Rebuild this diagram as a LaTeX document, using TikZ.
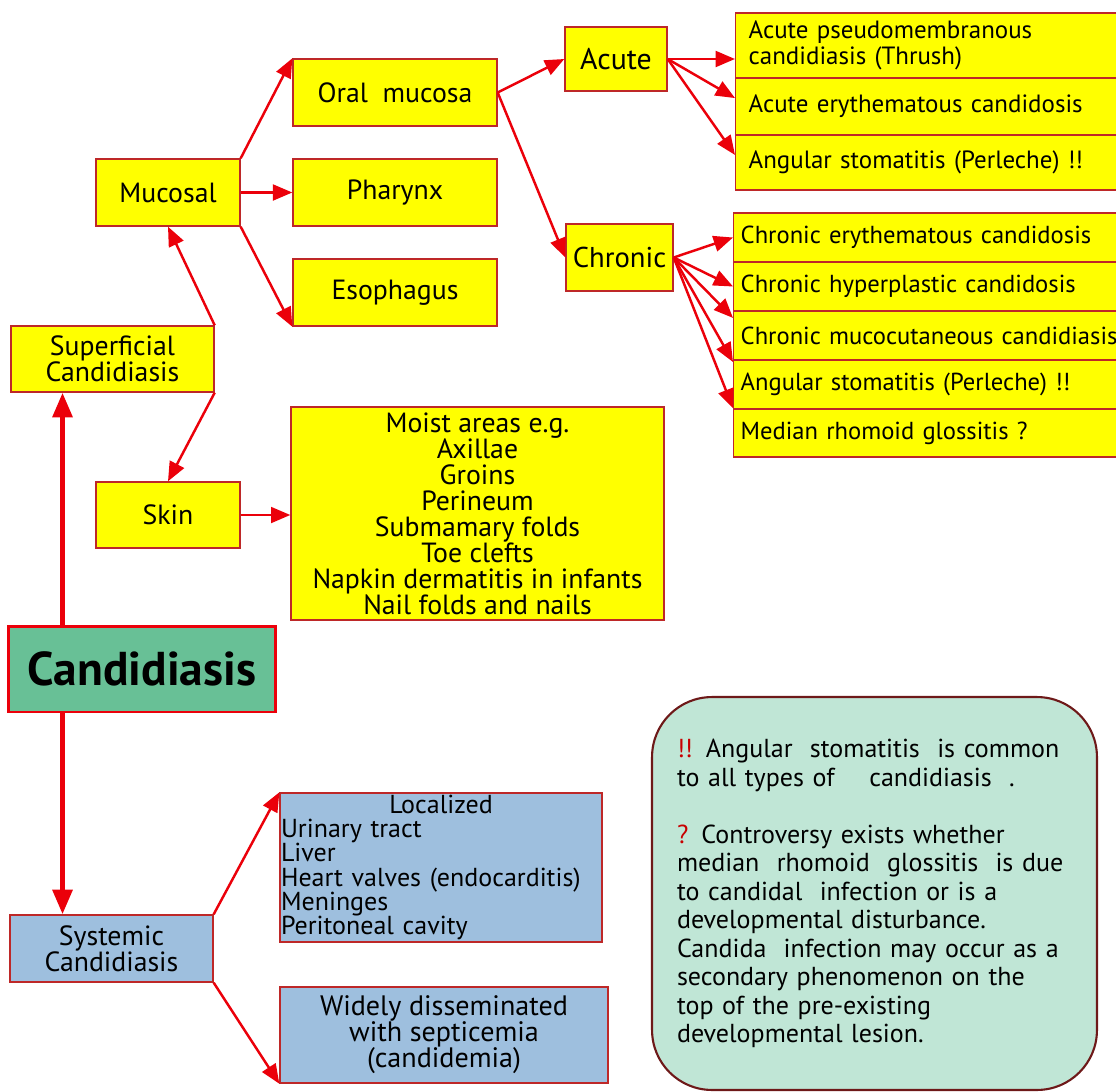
\documentclass[tikz,border=0pt]{standalone}
\usepackage{fontspec}
\setmainfont{PT Sans}
\usetikzlibrary{arrows.meta}
\definecolor{boxyellow}{RGB}{255,255,0}
\definecolor{boxedge}{RGB}{190,40,40}
\definecolor{arrowred}{RGB}{235,0,10}
\definecolor{candgreen}{RGB}{104,192,150}
\definecolor{sysblue}{RGB}{158,191,222}
\definecolor{notefill}{RGB}{192,230,214}
\definecolor{noteedge}{RGB}{110,25,25}
\definecolor{markred}{RGB}{200,0,0}
\tikzstyle{ybox}=[draw=boxedge, line width=0.8pt, fill=boxyellow, inner sep=0pt, align=center, font=\fontsize{15.8}{14.8}\selectfont]
\tikzstyle{bbox}=[ybox, fill=sysblue]
\tikzstyle{lbox}=[ybox, anchor=west, text width=8.6cm, align=left, inner xsep=0.14cm, font=\fontsize{14}{15}\selectfont]
\tikzstyle{topbox}=[draw=arrowred, line width=1.7pt, fill=candgreen, inner sep=0pt, font=\fontsize{27}{30}\bfseries]
\tikzstyle{notebox}=[draw=noteedge, line width=1.2pt, fill=notefill, rounded corners=1.2cm, inner sep=0pt, text width=7.9cm, align=left, font=\fontsize{14.8}{16.2}\selectfont]
\tikzstyle{link}=[arrowred, line width=1.4pt, -{Triangle[length=11pt,width=9pt]}]
\tikzstyle{biglink}=[arrowred, line width=2.8pt, -{Triangle[length=14pt,width=11pt]}]

\begin{document}
\begin{tikzpicture}[x=0.02cm,y=-0.02cm]
\clip (0,0) rectangle (1116,1092);

% superficial side
\node[ybox,minimum width=4.08cm,minimum height=1.34cm] (oral) at (395,92.5) {Oral\ \ mucosa};
\node[ybox,minimum width=4.08cm,minimum height=1.34cm] (pharynx) at (395,192.5) {Pharynx};
\node[ybox,minimum width=4.08cm,minimum height=1.34cm] (esoph) at (395,292.5) {Esophagus};
\node[ybox,minimum width=2.88cm,minimum height=1.34cm] (mucosal) at (168,192.5) {Mucosal};
\node[ybox,minimum width=4.06cm,minimum height=1.32cm] (superf) at (112.5,359) {Superficial\\Candidiasis};
\node[ybox,minimum width=2.88cm,minimum height=1.32cm] (skin) at (168,515) {Skin};
\node[ybox,minimum width=7.46cm,minimum height=4.26cm] (moist) at (477.5,513.5)
  {Moist areas e.g.\\Axillae\\Groins\\Perineum\\Submamary folds\\Toe clefts\\Napkin dermatitis in infants\\Nail folds and nails};

\node[ybox,minimum width=2.04cm,minimum height=1.28cm,font=\fontsize{17}{18}\selectfont] (acute) at (616,59) {Acute};
\node[ybox,minimum width=2.14cm,minimum height=1.34cm,font=\fontsize{16.3}{18}\selectfont] (chronic) at (619.5,257.5) {Chronic};

\node[lbox,minimum height=1.30cm,inner xsep=0.26cm,font=\fontsize{14.2}{15}\selectfont] (ac1) at (735,45.5) {Acute pseudomembranous\\candidiasis (Thrush)};
\node[lbox,minimum height=1.14cm,inner xsep=0.26cm,font=\fontsize{14.2}{15}\selectfont] (ac2) at (735,106.5) {Acute erythematous candidosis};
\node[lbox,minimum height=1.10cm,inner xsep=0.26cm,font=\fontsize{14.2}{15}\selectfont] (ac3) at (735,162.5) {Angular stomatitis (Perleche) !!};

\node[lbox,minimum height=0.98cm] (cr1) at (733,237.5) {Chronic erythematous candidosis};
\node[lbox,minimum height=0.98cm] (cr2) at (733,286.5) {Chronic hyperplastic candidosis};
\node[lbox,minimum height=0.98cm] (cr3) at (733,335.5) {Chronic mucocutaneous candidiasis};
\node[lbox,minimum height=0.98cm] (cr4) at (733,384.5) {Angular stomatitis (Perleche) !!};
\node[lbox,minimum height=0.96cm] (cr5) at (733,433) {Median rhomoid glossitis ?};

% main node
\node[topbox,minimum width=5.36cm,minimum height=1.72cm] (cand) at (142,669) {Candidiasis};

% systemic side
\node[bbox,minimum width=6.44cm,minimum height=2.98cm,text width=6.4cm,align=left,font=\fontsize{14.8}{13.8}\selectfont] (local) at (441,867.5)
  {\makebox[6.4cm]{Localized}\\Urinary tract\\Liver\\Heart valves (endocarditis)\\Meninges\\Peritoneal cavity};
\node[bbox,minimum width=4.06cm,minimum height=1.34cm] (systemic) at (111.5,948.5) {Systemic\\Candidiasis};
\node[bbox,minimum width=6.56cm,minimum height=1.92cm,font=\fontsize{16}{14.8}\selectfont] (widely) at (444,1035)
  {Widely disseminated\\with septicemia\\(candidemia)};

\node[notebox,minimum width=8.9cm,minimum height=7.86cm] (note) at (874.5,893.5)
  {{\color{markred}!!} Angular\ \ stomatitis\ \ is common\\
   to all types of\ \ \ \ candidiasis\ \ .\\[16.2pt]
   {\color{markred}?} Controversy exists whether\\
   median\ \ rhomoid\ \ glossitis\ \ is due\\
   to candidal\ \ infection or is a\\
   developmental disturbance.\\
   Candida\ \ infection may occur as a\\
   secondary phenomenon on the\\
   top of the pre-existing\\
   developmental lesion.};

% connectors
\coordinate (upstart) at ([xshift=1.12cm]cand.north west);
\coordinate (downstart) at ([xshift=1.12cm]cand.south west);
\draw[biglink] (upstart) -- (upstart |- superf.south);
\draw[biglink] (downstart) -- (downstart |- systemic.north);

\draw[link] (superf.north east) -- (mucosal.south);
\draw[link] (superf.south east) -- (skin.north);
\draw[link] (mucosal.north east) -- (oral.north west);
\draw[link] (mucosal.east) -- (pharynx.west);
\draw[link] (mucosal.south east) -- (esoph.south west);
\draw[link] (skin.east) -- (skin.east -| moist.west);

\draw[link] (oral.east) -- (acute.west);
\draw[link] (oral.east) -- (chronic.west);
\draw[link] (acute.east) -- (acute.east -| ac1.west);
\draw[link] (acute.east) -- ([yshift=4.8pt]ac2.west);
\draw[link] (acute.east) -- ([yshift=4.3pt]ac3.west);
\draw[link] (chronic.east) -- (cr1.west);
\draw[link] (chronic.east) -- (cr2.west);
\draw[link] (chronic.east) -- ([yshift=10pt]cr3.west);
\draw[link] (chronic.east) -- ([yshift=12.8pt]cr4.west);
\draw[link] (chronic.east) -- (cr5.north west);

\draw[link] (systemic.north east) -- (local.north west);
\draw[link] (systemic.south east) -- (widely.south west);

\end{tikzpicture}
\end{document}
